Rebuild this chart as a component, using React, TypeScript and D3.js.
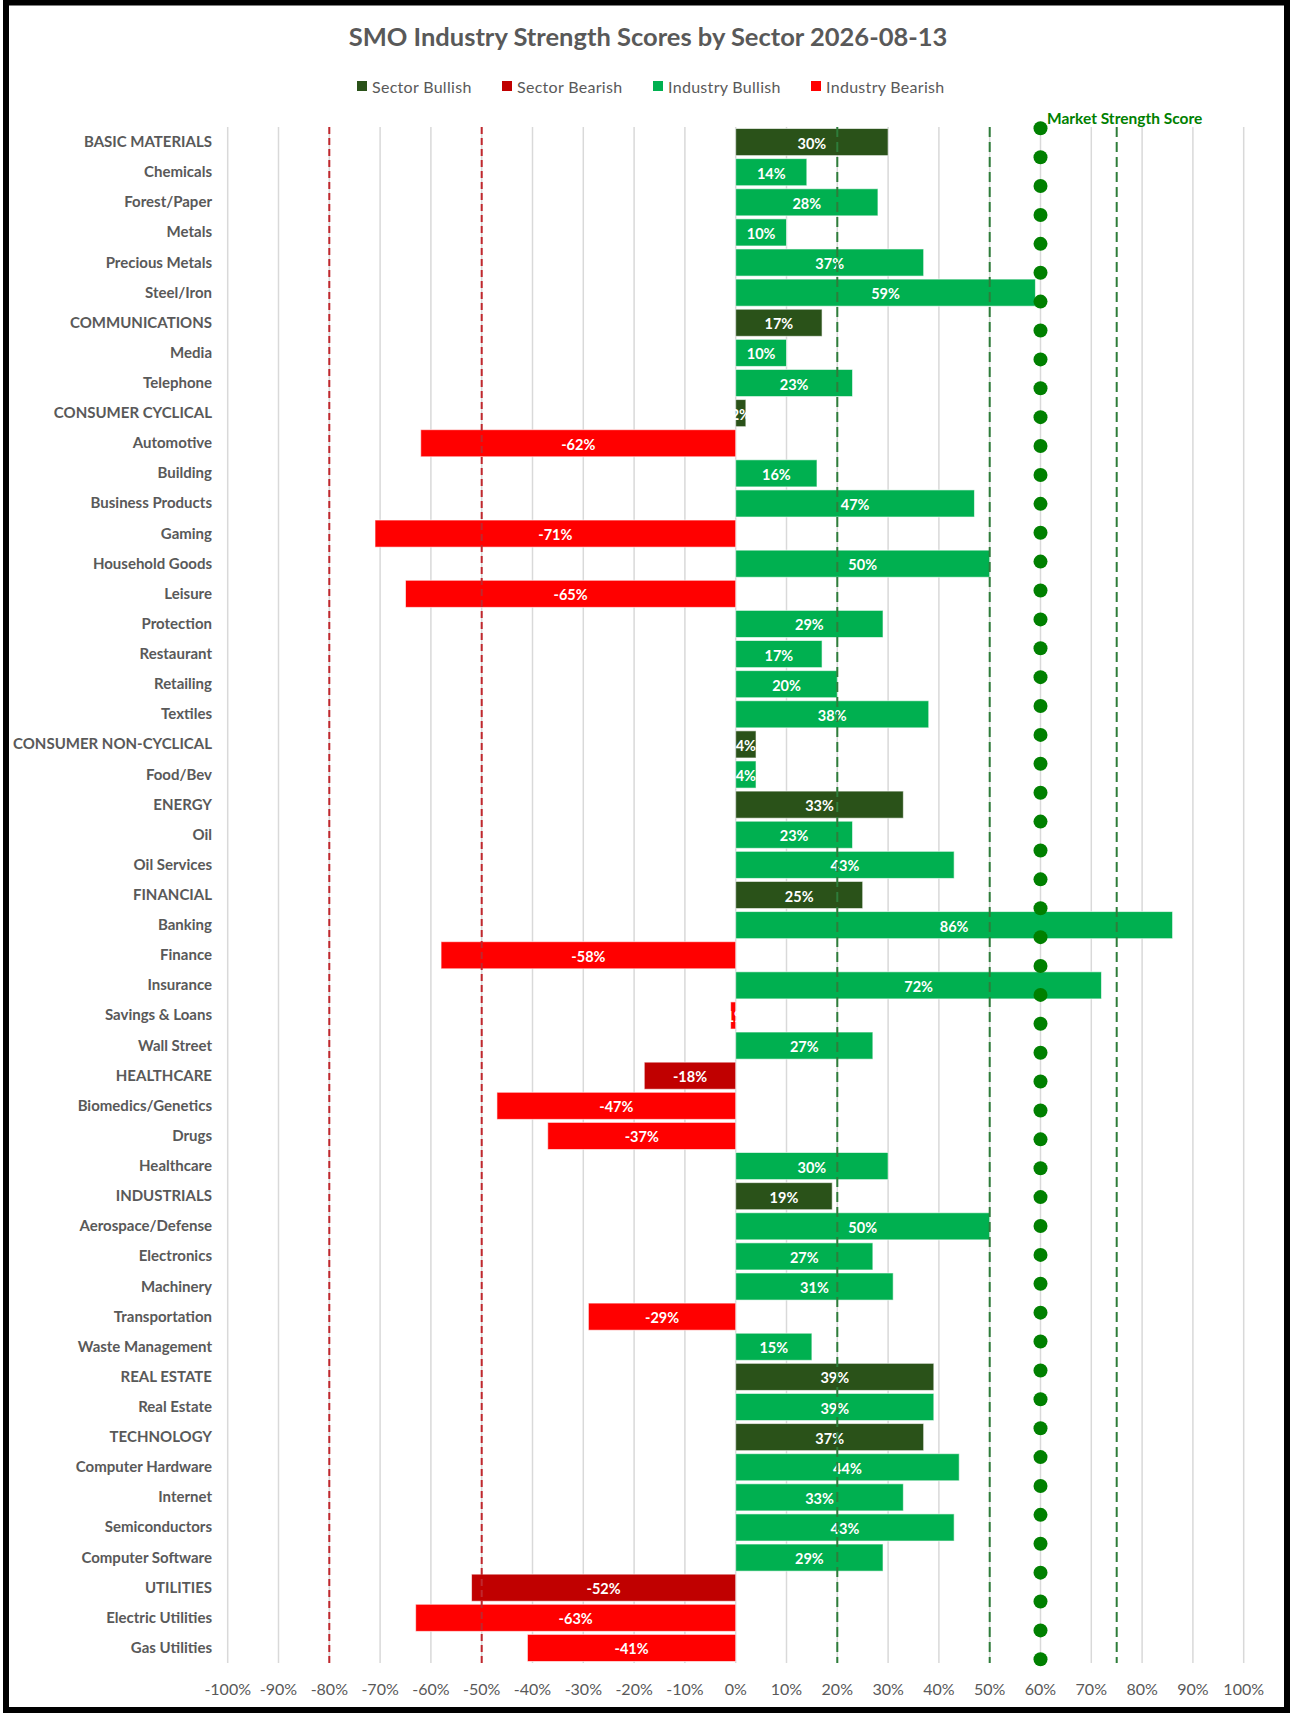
import React, { useRef, useEffect } from 'react';
import * as d3 from 'd3';

const categories = [
  'BASIC MATERIALS', 'Chemicals', 'Forest/Paper', 'Metals', 'Precious Metals', 'Steel/Iron',
  'COMMUNICATIONS', 'Media', 'Telephone',
  'CONSUMER CYCLICAL', 'Automotive', 'Building', 'Business Products', 'Gaming', 'Household Goods',
  'Leisure', 'Protection', 'Restaurant', 'Retailing', 'Textiles',
  'CONSUMER NON-CYCLICAL', 'Food/Bev',
  'ENERGY', 'Oil', 'Oil Services',
  'FINANCIAL', 'Banking', 'Finance', 'Insurance', 'Savings & Loans', 'Wall Street',
  'HEALTHCARE', 'Biomedics/Genetics', 'Drugs', 'Healthcare',
  'INDUSTRIALS', 'Aerospace/Defense', 'Electronics', 'Machinery', 'Transportation', 'Waste Management',
  'REAL ESTATE', 'Real Estate',
  'TECHNOLOGY', 'Computer Hardware', 'Internet', 'Semiconductors', 'Computer Software',
  'UTILITIES', 'Electric Utilities', 'Gas Utilities',
];

const scores = [
  30, 14, 28, 10, 37, 59,
  17, 10, 23,
  2, -62, 16, 47, -71, 50, -65, 29, 17, 20, 38,
  4, 4,
  33, 23, 43,
  25, 86, -58, 72, -1, 27,
  -18, -47, -37, 30,
  19, 50, 27, 31, -29, 15,
  39, 39,
  37, 44, 33, 43, 29,
  -52, -63, -41,
];

const sectors = [
  'BASIC MATERIALS', 'COMMUNICATIONS', 'CONSUMER CYCLICAL', 'CONSUMER NON-CYCLICAL', 'ENERGY',
  'FINANCIAL', 'HEALTHCARE', 'INDUSTRIALS', 'REAL ESTATE', 'TECHNOLOGY', 'UTILITIES',
];

// market strength score scatter (secondary axis, one point per step)
const marketScores = [
  60, 60, 60, 60, 60, 60, 60, 60, 60, 60, 60, 60, 60, 60, 60, 60, 60, 60,
  60, 60, 60, 60, 60, 60, 60, 60, 60, 60, 60, 60, 60, 60, 60, 60, 60, 60,
  60, 60, 60, 60, 60, 60, 60, 60, 60, 60, 60, 60, 60, 60, 60, 60, 60, 60,
];

const xTicks = [-100, -90, -80, -70, -60, -50, -40, -30, -20, -10, 0, 10, 20, 30, 40, 50, 60, 70, 80, 90, 100];
const bearLines = [-80, -50];
const bullLines = [20, 50, 75];

const legendItems = ['Sector Bullish', 'Sector Bearish', 'Industry Bullish', 'Industry Bearish'];
const legendColors = ['#2a5219', '#c00000', '#00b050', '#ff0000'];

const W = 1294;
const H = 1718;
const FONT = 'Lato, "Open Sans", sans-serif';

const App: React.FC = () => {
  const svgRef = useRef<SVGSVGElement | null>(null);

  useEffect(() => {
    if (!svgRef.current) return;
    const svg = d3.select(svgRef.current);
    svg.selectAll('*').remove();

    const top = 127;
    const bottom = 1663;

    const x = d3.scaleLinear().domain([-100, 100]).range([227.7, 1243.7]);
    const y = d3.scaleBand<string>().domain(categories).range([top, bottom]).paddingInner(0.1).paddingOuter(0.05);
    const y2 = d3.scaleLinear().domain([0, marketScores.length - 1]).range([128.3, 1659.3]);

    const colorOf = (name: string, v: number) => {
      const isSector = sectors.includes(name);
      if (isSector) return v >= 0 ? legendColors[0] : legendColors[1];
      return v >= 0 ? legendColors[2] : legendColors[3];
    };

    // frame
    svg.append('rect')
      .attr('x', 6).attr('y', 2.5)
      .attr('width', 1281).attr('height', 1707.5)
      .attr('fill', '#fff')
      .attr('stroke', '#000')
      .attr('stroke-width', 6);

    // title
    svg.append('text')
      .attr('x', 648).attr('y', 36)
      .attr('text-anchor', 'middle')
      .attr('dominant-baseline', 'central')
      .style('font-family', FONT)
      .style('font-size', '25.5px')
      .style('font-weight', 'bold')
      .style('fill', '#595959')
      .text('SMO Industry Strength Scores by Sector 2026-08-13');

    // legend
    const legendX = [357, 502, 653, 811];
    const leyenda = svg.append('g');
    legendItems.forEach((item, i) => {
      leyenda.append('rect')
        .attr('x', legendX[i]).attr('y', 81)
        .attr('width', 10).attr('height', 10)
        .attr('fill', legendColors[i]);
      leyenda.append('text')
        .attr('x', legendX[i] + 15).attr('y', 86)
        .attr('dominant-baseline', 'central')
        .style('font-family', FONT)
        .style('font-size', '16px')
        .style('letter-spacing', '0.3px')
        .style('fill', '#595959')
        .text(item);
    });

    // gridlines
    svg.append('g')
      .selectAll('line')
      .data(xTicks)
      .enter().append('line')
      .attr('x1', (d) => x(d)).attr('x2', (d) => x(d))
      .attr('y1', top).attr('y2', bottom)
      .attr('stroke', '#d9d9d9')
      .attr('stroke-width', 1.5);

    // tick labels
    svg.append('g')
      .selectAll('text')
      .data(xTicks)
      .enter().append('text')
      .attr('x', (d) => x(d)).attr('y', 1688)
      .attr('text-anchor', 'middle')
      .attr('dominant-baseline', 'central')
      .style('font-family', FONT)
      .style('font-size', '16px')
      .style('fill', '#595959')
      .text((d) => `${d}%`);

    // category labels
    svg.append('g')
      .selectAll('text')
      .data(categories)
      .enter().append('text')
      .attr('x', 212)
      .attr('y', (d) => (y(d) as number) + y.bandwidth() / 2 - 1)
      .attr('text-anchor', 'end')
      .attr('dominant-baseline', 'central')
      .style('font-family', FONT)
      .style('font-size', '15px')
      .style('font-weight', 'bold')
      .style('fill', '#595959')
      .text((d) => d);

    const rows = categories.map((c, i) => ({ name: c, value: scores[i] }));

    // bars
    svg.append('g')
      .selectAll('rect')
      .data(rows)
      .enter().append('rect')
      .attr('x', (d) => x(Math.min(0, d.value)))
      .attr('y', (d) => y(d.name) as number)
      .attr('width', (d) => Math.abs(x(d.value) - x(0)))
      .attr('height', y.bandwidth())
      .attr('fill', (d) => colorOf(d.name, d.value))
      .attr('stroke', 'rgba(255,255,255,0.6)')
      .attr('stroke-width', 1);

    // bar value labels
    svg.append('g')
      .selectAll('text')
      .data(rows)
      .enter().append('text')
      .attr('x', (d) => (x(d.value) + x(0)) / 2)
      .attr('y', (d) => (y(d.name) as number) + y.bandwidth() / 2 + 1)
      .attr('text-anchor', 'middle')
      .attr('dominant-baseline', 'central')
      .style('font-family', FONT)
      .style('font-size', '14.5px')
      .style('font-weight', 'bold')
      .style('fill', '#fff')
      .text((d) => `${d.value}%`);

    // reference lines
    svg.append('g')
      .selectAll('line')
      .data(bearLines)
      .enter().append('line')
      .attr('x1', (d) => x(d)).attr('x2', (d) => x(d))
      .attr('y1', top).attr('y2', bottom)
      .attr('stroke', '#c0272d')
      .attr('stroke-width', 2)
      .attr('stroke-dasharray', '7,4');

    svg.append('g')
      .selectAll('line')
      .data(bullLines)
      .enter().append('line')
      .attr('x1', (d) => x(d)).attr('x2', (d) => x(d))
      .attr('y1', top).attr('y2', bottom)
      .attr('stroke', '#2e7d3a')
      .attr('stroke-width', 2)
      .attr('stroke-dasharray', '10,5');

    // market strength dots
    svg.append('g')
      .selectAll('circle')
      .data(marketScores)
      .enter().append('circle')
      .attr('cx', (d) => x(d))
      .attr('cy', (d, i) => y2(i))
      .attr('r', 7)
      .attr('fill', '#008000');

    svg.append('text')
      .attr('x', 1047).attr('y', 118)
      .attr('dominant-baseline', 'central')
      .style('font-family', FONT)
      .style('font-size', '15.5px')
      .style('font-weight', 'bold')
      .style('fill', '#008000')
      .text('Market Strength Score');
  }, []);

  return (
    <svg
      ref={svgRef}
      width={W}
      height={H}
      style={{ position: 'absolute', left: 0, top: 0, background: '#fff' }}
    ></svg>
  );
};

export default App;
